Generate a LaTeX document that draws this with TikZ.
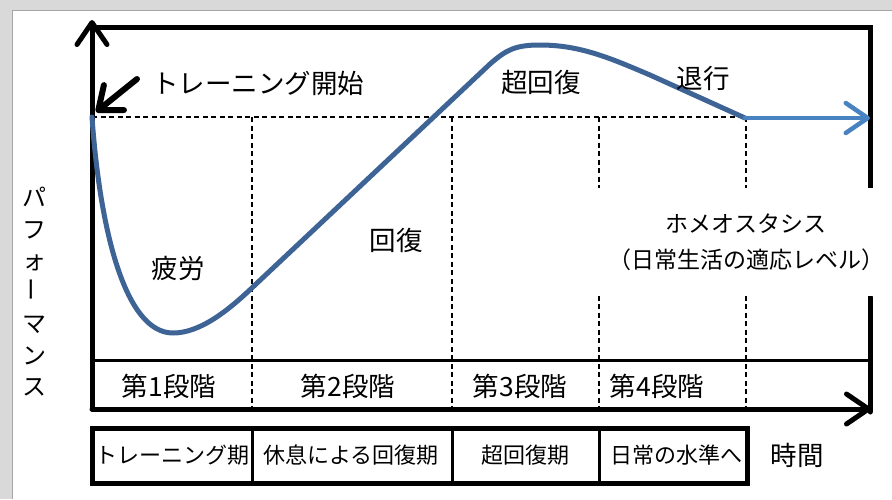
\documentclass[tikz,border=0pt]{standalone}
\usepackage{fontspec}
\usepackage{graphicx}
\setmainfont{Noto Sans CJK JP}
\usetikzlibrary{arrows.meta}

\definecolor{curveblue}{RGB}{62,100,150}
\definecolor{levelblue}{RGB}{72,130,192}

\tikzset{
  axis/.style={line width=5pt, line cap=round},
  axisarrow/.style={axis, -{Straight Barb[length=22pt,width=30pt,round]}},
  guide/.style={line width=1.2pt, dash pattern=on 5pt off 3.5pt},
  lbl/.style={font=\fontsize{26.5}{30}\selectfont, inner sep=0pt},
  boxlbl/.style={font=\fontsize{22}{26}\selectfont, inner sep=0pt},
}

\begin{document}
\begin{tikzpicture}[x=1pt,y=-1pt]
    \useasboundingbox (0,0) rectangle (892,499);
    % grey window edge
    \fill[gray!30] (0,0) rectangle (892,499);
    \fill[white] (12,10) rectangle (892,499);
    \draw[gray!70, line width=1pt] (12,499) -- (12,10) -- (892,10);

    % Define the corners of the chart
    \coordinate (O) at (92,409);
    \coordinate (ytop) at (92,20);
    \coordinate (xend) at (871,409);
    \coordinate (tl) at (92,27);
    \coordinate (tr) at (870,27);
    \coordinate (rgap1) at (870,190);
    \coordinate (rgap2) at (870,297);
    \coordinate (ml) at (92,360);
    \coordinate (mr) at (870,360);
    \coordinate (start) at (92,117);
    \coordinate (back) at (745,118);
    \coordinate (levelend) at (870,118);

    % frame and axes
    \draw[axis] (tl) -- (tr) -- (rgap1);
    \draw[axis] (rgap2) -- (870,412);
    \draw[line width=3pt] (ml) -- (mr);
    \draw[axisarrow] (O) -- (ytop);
    \draw[axisarrow] (O) -- (xend);

    % dashed base level and stage borders
    \draw[guide] (start) -- (746,117);
    \foreach \x in {252,452,599,746} {
      \draw[guide] (\x,117) -- (\x,407);
    }

    % homeostasis label covers the guides
    \node[fill=white, minimum width=298pt, minimum height=108pt, align=center,
          inner sep=0pt, font=\fontsize{23}{36}\selectfont] (homeo) at (746,242)
          {ホメオスタシス\\（日常生活の適応レベル）};

    % performance curve
    \draw[curveblue, line width=5pt, line cap=round]
      (start) .. controls (100,230) and (125,333) .. (173,333)
      .. controls (200,333) and (228,311) .. (255,285) -- (490,64)
      .. controls (506,50) and (515,45) .. (540,45)
      .. controls (580,45) and (610,58) .. (650,75) -- (back);
    \draw[levelblue, line width=4.5pt, line cap=round,
          -{Straight Barb[length=22pt,width=30pt,round]}] (back) -- (levelend);

    % labels on the chart
    \node[lbl] (startlabel) at (258,83) {トレーニング開始};
    \coordinate (starttail) at (137,79);
    \draw[line width=6pt, line cap=round, -{Straight Barb[length=20pt,width=32pt,round]}] (starttail) -- (96,112);
    \node[lbl] (super) at (541,82) {超回復};
    \node[lbl] (regress) at (703,78) {退行};
    \node[lbl] (recover) at (396,240) {回復};
    \node[lbl] (fatigue) at (178,268) {疲労};

    % stages
    \foreach \x/\n in {169/1,348/2,520/3,657/4} {
      \node[lbl] (stage\n) at (\x,386) {第{\n}段階};
    }

    % periods box
    \draw[line width=5pt] (92,428) rectangle (747,483);
    \foreach \x in {252,452,599} {
      \draw[line width=3pt] (\x,428) -- (\x,483);
    }
    \foreach \x/\t [count=\i] in {172/トレーニング期,351/休息による回復期,525/超回復期,676/日常の水準へ} {
      \node[boxlbl] (period\i) at (\x,455) {\t};
    }
    \node[lbl] (time) at (797,455) {時間};

    % vertical axis label
    \node[align=center, inner sep=0pt, font=\fontsize{24}{31.5}\selectfont] (ylabel) at (35,292)
      {パ\\フ\\ォ\\\rotatebox{90}{ー}\\マ\\ン\\ス};
\end{tikzpicture}
\end{document}
